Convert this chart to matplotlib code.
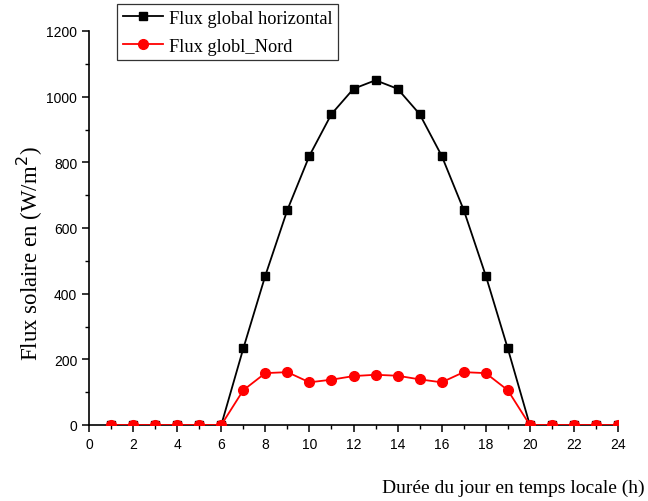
import matplotlib
matplotlib.use("Agg")
import matplotlib.pyplot as plt
from matplotlib.ticker import MultipleLocator

hours = list(range(1, 25))
flux_horizontal = [0, 0, 0, 0, 0, 0, 233, 455, 655, 820, 947, 1024, 1050, 1024, 947, 820, 655, 455, 233, 0, 0, 0, 0, 0]
flux_nord = [0, 0, 0, 0, 0, 0, 106, 158, 161, 130, 138, 149, 153, 150, 139, 130, 161, 158, 106, 0, 0, 0, 0, 0]

fig = plt.figure(figsize=(6.48, 5.02), dpi=100)
ax = fig.add_axes([89/648, 76/502, 529/648, 394/502])

ax.plot(hours, flux_horizontal, color="black", marker="s", markersize=6, linewidth=1.3,
        label="Flux global horizontal", zorder=3)
ax.plot(hours, flux_nord, color="red", marker="o", markersize=7, linewidth=1.3,
        label="Flux globl_Nord", zorder=4)

ax.set_xlim(0, 24)
ax.set_ylim(0, 1200)
ax.xaxis.set_major_locator(MultipleLocator(2))
ax.xaxis.set_minor_locator(MultipleLocator(1))
ax.yaxis.set_major_locator(MultipleLocator(200))
ax.yaxis.set_minor_locator(MultipleLocator(100))
for s in ["top", "right"]:
    ax.spines[s].set_visible(False)
ax.spines["left"].set_linewidth(1.2)
ax.spines["bottom"].set_linewidth(1.2)
ax.tick_params(which="major", direction="out", length=5, width=1.1, labelsize=10)
ax.tick_params(which="minor", direction="out", length=3, width=1.0)
for lab in ax.get_xticklabels() + ax.get_yticklabels():
    lab.set_fontfamily("Liberation Sans")

fig.text(30/648, 1 - 254/502, "Flux solaire en (W/m$^2$)", rotation=90, ha="center", va="center",
         fontsize=16.5, family="Liberation Serif")
fig.text(0.995, 0.028, "Durée du jour en temps locale (h)", ha="right", va="center",
         fontsize=14, family="Liberation Serif")

leg = fig.legend(loc="upper left", bbox_to_anchor=(117/648, 1 - 5/502),
                 prop={"family": "Liberation Serif", "size": 13.2}, frameon=True, fancybox=False,
                 edgecolor="black", borderpad=0.3, handlelength=2.2, handletextpad=0.35,
                 labelspacing=0.6, borderaxespad=0)
leg.get_frame().set_linewidth(0.9)

fig.savefig("out.png", dpi=100)
